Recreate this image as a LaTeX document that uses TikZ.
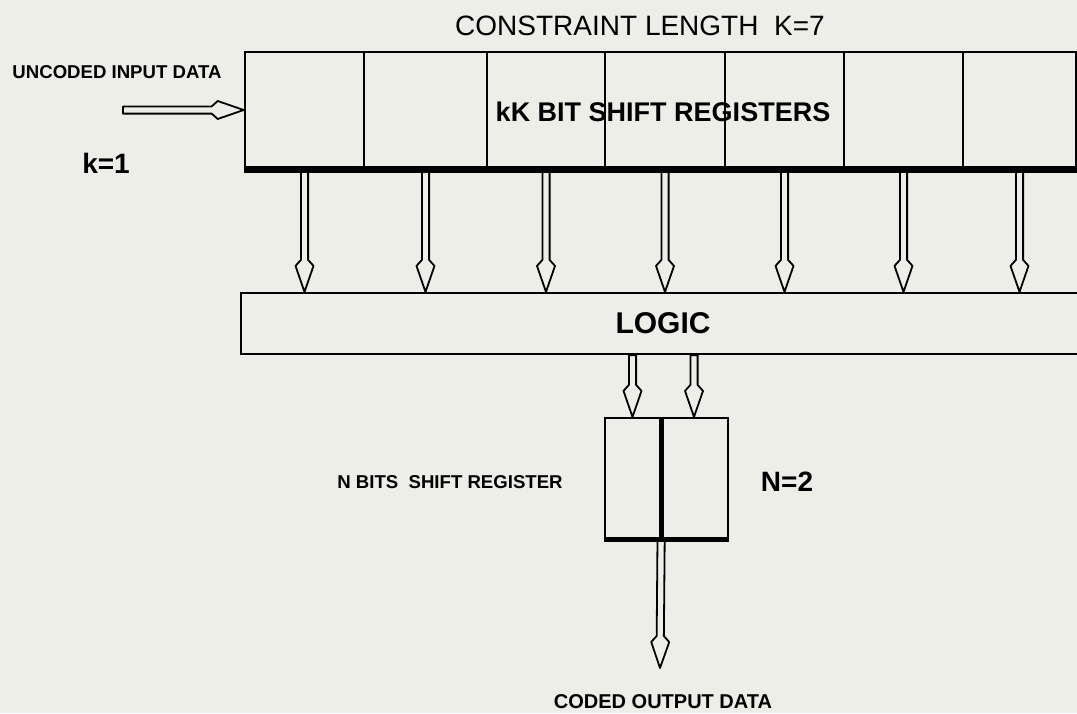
\documentclass[tikz,border=0pt]{standalone}
\usepackage{fontspec}
\setmainfont{Liberation Sans}
\usetikzlibrary{calc}
\definecolor{paper}{RGB}{238,238,232}

\begin{document}
\begin{tikzpicture}[
  x=0.5pt, y=-0.5pt,
  every node/.style={inner sep=0pt},
  cell/.style={rectangle, draw=black, line width=1.3pt, minimum height=58pt},
  box/.style={rectangle, draw=black, line width=1.1pt},
  lbl/.style={font=\bfseries\fontsize{9.3}{11}\selectfont},
  big/.style={font=\bfseries\fontsize{14}{16}\selectfont},
  hollow/.style={line width=0.9pt, line join=round, to path={
    let \p1=($(\tikztotarget)!16pt!(\tikztostart)$),
        \p2=($(\tikztotarget)!13pt!(\tikztostart)$) in
    ($(\tikztostart)!1.8pt!90:(\tikztotarget)$) -- ($(\p1)!1.8pt!90:(\tikztotarget)$)
    -- ($(\p2)!4.5pt!90:(\tikztotarget)$) -- (\tikztotarget)
    -- ($(\p2)!4.5pt!-90:(\tikztotarget)$) -- ($(\p1)!1.8pt!-90:(\tikztotarget)$)
    -- ($(\tikztostart)!1.8pt!-90:(\tikztotarget)$) -- cycle}}
]
\useasboundingbox (0,0) rectangle (1077,713);
\fill[paper] (0,0) rectangle (1077,713);

% shift register, K=7 cells
\foreach \a/\b [count=\i] in {245/364,364/487,487/605,605/725,725/844,844/963,963/1076}
  \node[cell, minimum width={(\b-\a)*0.5pt}] (c\i) at ({(\a+\b)/2},110) {};
\draw[line width=3.5pt] (c1.south west) -- (c7.south east);
\node[font=\fontsize{14}{16}\selectfont] (title) at (640,26) {CONSTRAINT LENGTH\ \ K=7};
\node[font=\bfseries\fontsize{13.5}{16}\selectfont] (kk) at (663,112) {kK BIT SHIFT REGISTERS};

\node[lbl] (inlbl) at (117,72) {UNCODED INPUT DATA};
\node[big] (klbl) at (106,163) {k=1};
\coordinate (in) at (123,110);
\draw[hollow] (in) to (c1.west);

% logic
\node[box, minimum width=422pt, minimum height=30.5pt,
      font=\bfseries\fontsize{15}{18}\selectfont] (logic) at (663,323.5) {LOGIC};
\foreach \i in {1,...,7}
  \draw[hollow] (c\i.south) to (c\i.south |- logic.north);

% N=2 output register
\node[box, minimum width=27.5pt, minimum height=60pt] (nL) at (632.5,478) {};
\node[box, minimum width=34pt, minimum height=60pt] (nR) at (694,478) {};
\draw[line width=2.5pt] (nL.north east) -- (nL.south east);
\draw[line width=2.5pt] (nL.south west) -- (nR.south east);
\draw[hollow] (nL.north |- logic.south) to (nL.north);
\draw[hollow] (nR.north |- logic.south) to (nR.north);

\node[lbl] (nlbl) at (450,482) {N BITS\ \ SHIFT REGISTER};
\node[big] (neq) at (787,482) {N=2};

\coordinate (out) at (660,668);
\draw[hollow] (nL.south east) to (out);
\node[lbl, font=\bfseries\fontsize{10}{12}\selectfont] (outlbl) at (663,702) {CODED OUTPUT DATA};
\end{tikzpicture}
\end{document}
